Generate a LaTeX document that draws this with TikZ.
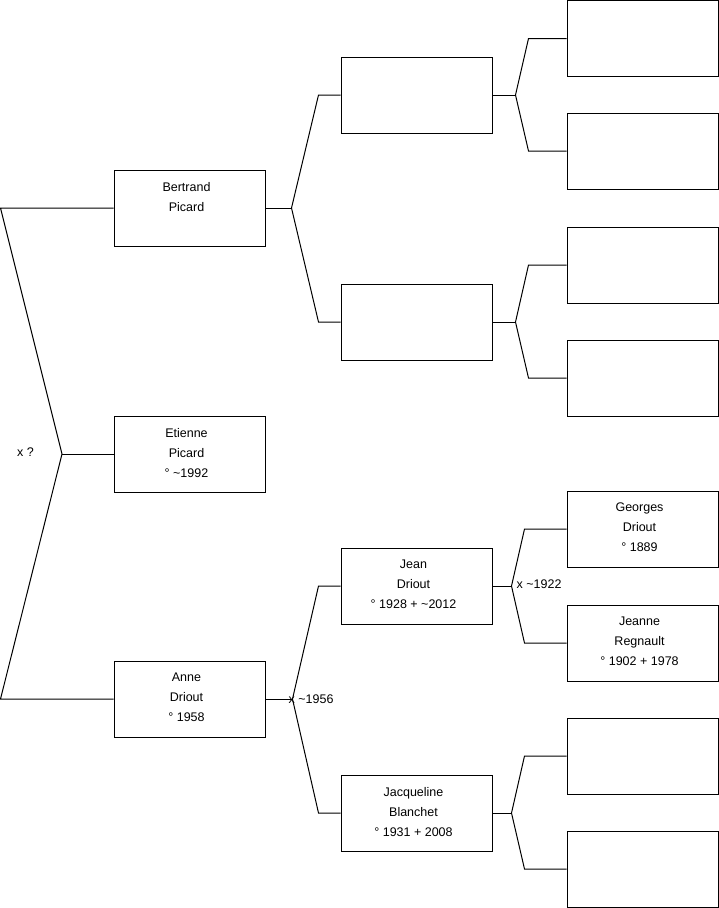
\documentclass[tikz,border=0pt]{standalone}
\usepackage{fontspec}
\setmainfont{Liberation Sans}
\usetikzlibrary{positioning}
\newcommand{\ca}{\textasciitilde}

\begin{document}
\begin{tikzpicture}[x=1pt,y=-1pt,
  person/.style={draw,line width=1pt,minimum width=151pt,minimum height=76pt,inner sep=0pt},
  names/.style={anchor=north,align=center,inner sep=0pt,xshift=-3pt,yshift=-12.5pt,font=\fontsize{12.5}{20}\selectfont},
  link/.style={line width=1pt},
  tag/.style={anchor=west,inner sep=0pt,font=\fontsize{12.5}{15}\selectfont}]
\useasboundingbox (0,0) rectangle (719,908);

% boxes, generation by generation
\foreach \n/\x/\y/\t in {bertrand/189.5/208/{Bertrand\\Picard},
    etienne/189.5/454/{Etienne\\Picard\\° \ca1992},
    anne/189.5/699/{Anne\\Driout\\° 1958},
    upperA/416.5/95/{}, upperB/416.5/322/{},
    jean/416.5/586/{Jean\\Driout\\° 1928 + \ca2012},
    jacqueline/416.5/813/{Jacqueline\\Blanchet\\° 1931 + 2008},
    gA1/642.5/38.5/{}, gA2/642.5/151/{}, gB1/642.5/265/{}, gB2/642.5/378/{},
    georges/642.5/529/{Georges\\Driout\\° 1889},
    jeanne/642.5/643/{Jeanne\\Regnault\\° 1902 + 1978},
    gD1/642.5/756/{}, gD2/642.5/869/{}}{
  \node[person] (\n) at (\x,\y) {};
  \node[names] at (\n.north) {\t};
}

% left bracket
\coordinate (edgeL) at (0.5,0);
\coordinate (forkL) at (62,454);
\draw[link] (bertrand.west) -- (bertrand.west -| edgeL) -- (forkL)
  -- (anne.west -| edgeL) -- (anne.west);
\draw[link] (forkL) -- (etienne.west);
\node[tag] at ([xshift=-45pt,yshift=2pt]forkL) {x ?};

% forks towards the parents
\foreach \p/\a/\b/\d/\e in {bertrand/upperA/upperB/26/22, anne/jean/jacqueline/27/22,
    upperA/gA1/gA2/23/38, upperB/gB1/gB2/23/38,
    jean/georges/jeanne/19/42, jacqueline/gD1/gD2/19/42}{
  \coordinate (fork-\p) at ([xshift=\d pt]\p.east);
  \draw[link] (\p.east) -- (fork-\p);
  \draw[link] (\a.west) -- ([xshift=-\e pt]\a.west) -- (fork-\p)
    -- ([xshift=-\e pt]\b.west) -- (\b.west);
}
\node[tag] at ([xshift=-4pt]fork-anne) {x \ca1956};
\node[tag] at ([xshift=5pt,yshift=2pt]fork-jean) {x \ca1922};
\end{tikzpicture}
\end{document}
